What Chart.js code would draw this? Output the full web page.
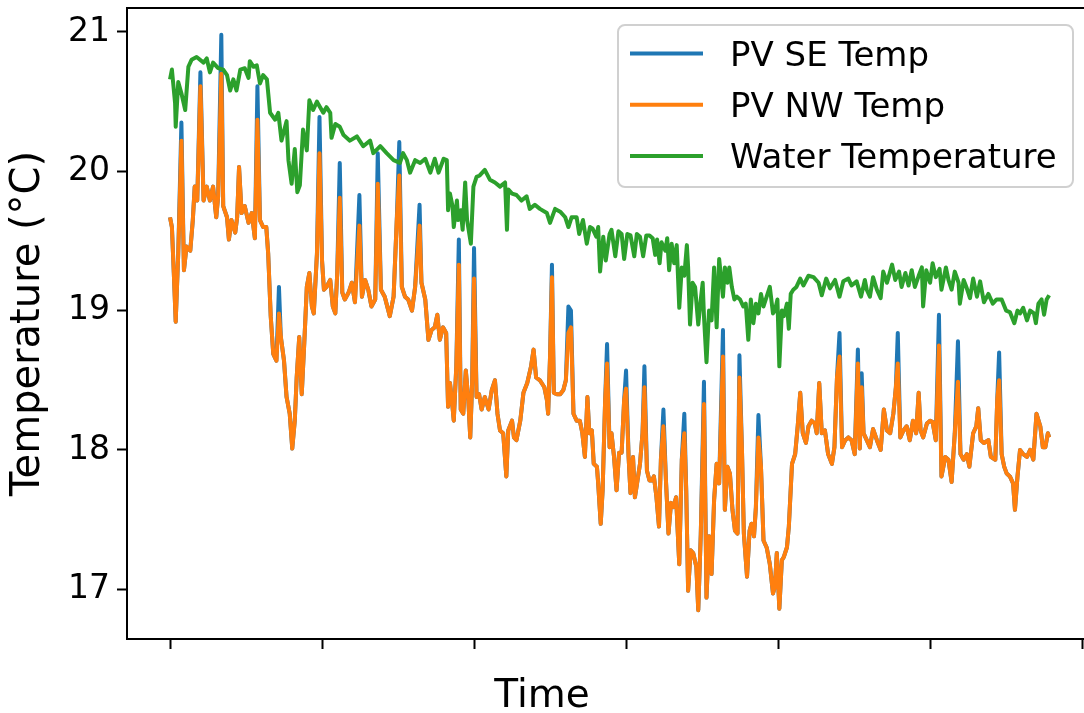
<!DOCTYPE html>
<html>
<head>
<meta charset="utf-8">
<title>PV and water temperature</title>
<script src="https://cdn.jsdelivr.net/npm/chart.js@4.4.1/dist/chart.umd.min.js"></script>
<style>
  html, body { margin: 0; padding: 0; background: #fff; }
  #wrap { width: 1084px; height: 713px; }
</style>
</head>
<body>
<div id="wrap"><canvas id="tempChart" width="1084" height="713"></canvas></div>
<script>
// Time in hours since the first sample (ticks every 24 h, no labels)
const pvHours = [
  0.0, 0.3, 0.6, 0.9, 1.3, 1.8, 2.2, 2.6, 3.2, 3.6, 3.9, 4.3,
  4.8, 5.3, 5.8, 6.3, 6.8, 7.3, 7.6, 8.1, 8.4, 9.0, 9.3, 9.7,
  10.3, 10.6, 10.9, 11.3, 11.8, 12.4, 12.9, 13.4, 13.8, 14.2, 14.7, 15.2,
  15.5, 15.9, 16.3, 16.8, 17.2, 17.5, 18.0, 18.4, 18.9, 19.3, 19.7, 20.0,
  20.4, 20.8, 21.2, 21.6, 22.0, 22.4, 22.7, 23.2, 23.6, 24.0, 24.3, 24.7,
  25.3, 25.7, 26.1, 26.4, 26.8, 27.2, 27.6, 28.2, 28.7, 29.2, 29.9, 30.3,
  30.8, 31.3, 31.8, 32.4, 32.8, 33.3, 33.9, 34.7, 35.3, 35.8, 36.2, 36.6,
  37.1, 37.6, 38.2, 38.7, 39.4, 39.7, 40.3, 40.8, 41.3, 41.8, 42.2, 42.6,
  43.1, 43.6, 43.9, 44.2, 44.5, 44.8, 45.2, 45.6, 45.9, 46.3, 46.7, 47.1,
  47.4, 47.7, 48.0, 48.4, 48.8, 49.2, 49.7, 50.3, 50.8, 51.3, 51.7, 52.1,
  52.6, 53.1, 53.4, 54.0, 54.3, 54.7, 55.3, 55.8, 56.4, 57.0, 57.4, 57.8,
  58.4, 59.1, 59.5, 59.7, 60.0, 60.3, 60.6, 61.1, 61.6, 62.1, 62.5, 62.9,
  63.3, 63.7, 64.2, 64.7, 65.1, 65.5, 65.9, 66.2, 66.6, 66.9, 67.4, 67.6,
  68.0, 68.3, 68.7, 69.0, 69.4, 69.7, 70.1, 70.5, 70.9, 71.3, 71.7, 72.0,
  72.4, 72.7, 73.1, 73.4, 73.8, 74.2, 74.6, 74.9, 75.3, 75.7, 76.1, 76.4,
  76.8, 77.2, 77.5, 77.9, 78.3, 78.7, 79.1, 79.5, 79.9, 80.4, 80.8, 81.2,
  81.5, 81.8, 82.2, 82.6, 83.1, 83.4, 83.8, 84.3, 84.7, 85.1, 85.5, 85.9,
  86.3, 86.7, 87.3, 87.6, 88.0, 88.4, 88.8, 89.2, 89.6, 89.9, 90.3, 90.6,
  91.1, 91.5, 91.8, 92.2, 92.5, 92.9, 93.3, 93.7, 94.2, 94.7, 95.2, 95.5,
  95.8, 96.2, 96.6, 96.9, 97.4, 97.7, 98.2, 98.7, 99.1, 99.5, 99.9, 100.4,
  100.8, 101.3, 101.8, 102.1, 102.5, 102.9, 103.4, 103.9, 104.5, 104.9, 105.3, 105.7,
  106.1, 106.6, 107.1, 107.6, 108.1, 108.6, 108.9, 109.2, 109.5, 110.0, 110.5, 111.0,
  111.6, 112.2, 112.7, 113.2, 113.7, 114.2, 114.6, 114.9, 115.3, 115.8, 116.3, 116.8,
  117.3, 117.8, 118.2, 118.5, 118.9, 119.5, 120.0, 120.4, 120.9, 121.4, 121.8, 122.4,
  122.9, 123.4, 123.9, 124.4, 124.8, 125.3, 125.8, 126.2, 126.8, 127.3, 127.6, 128.0,
  128.5, 129.2, 129.6, 130.3, 130.6, 130.9, 131.3, 131.7, 132.1, 132.6, 133.1, 133.4,
  133.8, 134.2, 134.7, 135.3, 135.8, 136.3, 136.8, 137.4, 137.8, 138.2, 138.6, 138.8
];

const pvSE = [
  19.67, 19.60, 19.27, 18.92, 19.41, 20.35, 19.29, 19.46, 19.43, 19.65, 19.89, 19.79,
  20.71, 19.79, 19.89, 19.79, 19.89, 19.67, 19.82, 20.98, 19.75, 19.67, 19.51, 19.65,
  19.56, 19.67, 20.03, 19.70, 19.75, 19.63, 19.70, 19.52, 20.61, 19.65, 19.60, 19.60,
  19.41, 18.96, 18.69, 18.64, 19.17, 18.81, 18.64, 18.38, 18.26, 18.01, 18.21, 18.52,
  18.81, 18.40, 18.77, 19.17, 19.27, 19.03, 18.98, 19.41, 20.39, 19.36, 19.15, 19.17,
  19.22, 19.03, 18.98, 19.27, 20.06, 19.13, 19.08, 19.13, 19.20, 19.06, 19.83, 19.10,
  19.22, 19.15, 19.03, 19.08, 20.13, 19.15, 19.10, 18.96, 19.10, 19.65, 20.21, 19.17,
  19.10, 19.08, 19.00, 19.17, 19.76, 19.20, 19.08, 18.79, 18.86, 18.88, 18.97, 18.79,
  18.88, 18.84, 18.31, 18.48, 18.36, 18.21, 18.60, 19.51, 18.29, 18.26, 18.57, 18.36,
  18.09, 18.48, 19.45, 18.38, 18.40, 18.29, 18.38, 18.29, 18.43, 18.50, 18.26, 18.14,
  18.12, 17.81, 18.14, 18.21, 18.09, 18.07, 18.21, 18.41, 18.48, 18.60, 18.72, 18.52,
  18.50, 18.45, 18.36, 18.26, 18.67, 19.33, 18.41, 18.40, 18.40, 18.43, 18.50, 19.03,
  19.00, 18.26, 18.21, 18.21, 18.12, 17.95, 18.38, 18.12, 18.14, 17.90, 17.88, 17.76,
  17.47, 17.71, 18.36, 18.76, 18.02, 18.12, 17.95, 17.71, 17.98, 17.98, 18.36, 18.57,
  17.95, 17.69, 17.95, 17.66, 17.78, 17.90, 18.12, 18.60, 17.85, 17.78, 17.78, 17.81,
  17.66, 17.45, 17.93, 18.29, 17.78, 17.40, 17.62, 17.59, 17.66, 17.18, 17.93, 18.26,
  17.71, 16.99, 17.28, 17.26, 17.16, 16.85, 17.40, 18.49, 16.94, 17.38, 17.11, 17.64,
  17.90, 17.76, 18.86, 17.57, 17.88, 17.83, 17.57, 17.42, 17.40, 18.68, 18.00, 17.40,
  17.09, 17.42, 17.47, 17.38, 17.59, 18.25, 17.88, 17.35, 17.30, 17.18, 16.97, 17.02,
  17.26, 16.86, 17.21, 17.23, 17.30, 17.45, 17.90, 17.97, 18.17, 18.41, 18.12, 18.05,
  18.17, 18.21, 18.19, 18.12, 18.48, 18.12, 18.14, 17.97, 17.90, 18.02, 18.52, 18.84,
  18.02, 18.07, 18.09, 18.07, 17.97, 18.72, 18.01, 18.55, 18.12, 18.07, 18.02, 18.15,
  18.07, 18.00, 18.29, 18.14, 18.12, 18.26, 18.45, 18.84, 18.09, 18.14, 18.17, 18.07,
  18.21, 18.12, 18.41, 18.14, 18.09, 18.19, 18.21, 18.20, 18.07, 18.97, 17.81, 17.95,
  17.93, 17.77, 18.12, 18.78, 17.97, 17.93, 17.97, 17.88, 18.12, 18.17, 18.30, 18.07,
  18.05, 18.07, 17.95, 17.93, 18.36, 18.70, 17.97, 17.88, 17.83, 17.81, 17.76, 17.57,
  17.81, 18.00, 17.97, 17.95, 18.00, 17.93, 18.26, 18.17, 18.02, 18.02, 18.12, 18.09
];

const pvNW = [
  19.67, 19.60, 19.27, 18.92, 19.41, 20.22, 19.29, 19.46, 19.43, 19.65, 19.89, 19.79,
  20.61, 19.79, 19.89, 19.79, 19.89, 19.67, 19.82, 20.70, 19.75, 19.67, 19.51, 19.65,
  19.56, 19.67, 20.03, 19.70, 19.75, 19.63, 19.70, 19.52, 20.37, 19.65, 19.60, 19.60,
  19.41, 18.96, 18.69, 18.64, 18.98, 18.81, 18.64, 18.38, 18.26, 18.01, 18.21, 18.52,
  18.81, 18.40, 18.77, 19.17, 19.27, 19.03, 18.98, 19.41, 20.13, 19.36, 19.15, 19.17,
  19.22, 19.03, 18.98, 19.27, 19.81, 19.13, 19.08, 19.13, 19.20, 19.06, 19.61, 19.10,
  19.22, 19.15, 19.03, 19.08, 19.91, 19.15, 19.10, 18.96, 19.10, 19.65, 19.97, 19.17,
  19.10, 19.08, 19.00, 19.17, 19.61, 19.20, 19.08, 18.79, 18.86, 18.88, 18.97, 18.79,
  18.88, 18.84, 18.31, 18.48, 18.36, 18.21, 18.60, 19.33, 18.29, 18.26, 18.57, 18.36,
  18.09, 18.48, 19.23, 18.38, 18.40, 18.29, 18.38, 18.29, 18.43, 18.50, 18.26, 18.14,
  18.12, 17.81, 18.14, 18.21, 18.09, 18.07, 18.21, 18.41, 18.48, 18.60, 18.72, 18.52,
  18.50, 18.45, 18.36, 18.26, 18.67, 19.24, 18.41, 18.40, 18.40, 18.43, 18.50, 18.84,
  18.88, 18.26, 18.21, 18.21, 18.12, 17.95, 18.38, 18.12, 18.14, 17.90, 17.88, 17.76,
  17.47, 17.71, 18.36, 18.62, 18.02, 18.12, 17.95, 17.71, 17.98, 17.98, 18.36, 18.44,
  17.95, 17.69, 17.95, 17.66, 17.78, 17.90, 18.12, 18.45, 17.85, 17.78, 17.78, 17.81,
  17.66, 17.45, 17.93, 18.17, 17.78, 17.40, 17.62, 17.59, 17.66, 17.18, 17.93, 18.12,
  17.71, 16.99, 17.28, 17.26, 17.16, 16.85, 17.40, 18.33, 16.94, 17.38, 17.11, 17.64,
  17.90, 17.76, 18.67, 17.57, 17.88, 17.83, 17.57, 17.42, 17.40, 18.52, 18.00, 17.40,
  17.09, 17.42, 17.47, 17.38, 17.59, 18.09, 17.88, 17.35, 17.30, 17.18, 16.97, 17.02,
  17.26, 16.86, 17.21, 17.23, 17.30, 17.45, 17.90, 17.97, 18.17, 18.41, 18.12, 18.05,
  18.17, 18.21, 18.19, 18.12, 18.48, 18.12, 18.14, 17.97, 17.90, 18.02, 18.52, 18.67,
  18.02, 18.07, 18.09, 18.07, 17.97, 18.62, 18.01, 18.45, 18.12, 18.07, 18.02, 18.15,
  18.07, 18.00, 18.29, 18.14, 18.12, 18.26, 18.45, 18.62, 18.09, 18.14, 18.17, 18.07,
  18.21, 18.12, 18.41, 18.14, 18.09, 18.19, 18.21, 18.20, 18.07, 18.75, 17.81, 17.95,
  17.93, 17.77, 18.12, 18.49, 17.97, 17.93, 17.97, 17.88, 18.12, 18.17, 18.30, 18.07,
  18.05, 18.07, 17.95, 17.93, 18.36, 18.50, 17.97, 17.88, 17.83, 17.81, 17.76, 17.57,
  17.81, 18.00, 17.97, 17.95, 18.00, 17.93, 18.26, 18.17, 18.02, 18.02, 18.12, 18.09
];

const waterHours = [
  0.0, 0.3, 0.8, 0.9, 1.3, 1.8, 2.4, 2.9, 3.4, 4.2, 5.3, 5.8,
  6.3, 6.8, 7.6, 8.4, 9.0, 9.5, 10.0, 10.5, 11.1, 11.8, 12.4, 12.6,
  13.2, 13.7, 14.2, 14.7, 15.3, 15.8, 16.6, 17.1, 17.6, 18.4, 18.7, 19.2,
  19.7, 20.1, 20.5, 21.0, 21.6, 22.0, 22.6, 23.2, 23.7, 24.2, 24.7, 25.3,
  25.5, 26.1, 26.8, 27.4, 28.4, 29.5, 30.5, 31.6, 32.1, 33.2, 34.2, 35.3,
  36.3, 36.8, 37.4, 37.9, 38.7, 39.5, 40.3, 41.1, 41.8, 42.4, 43.2, 43.7,
  43.9, 44.2, 44.6, 44.8, 45.3, 45.5, 45.9, 46.2, 46.6, 46.9, 47.5, 47.9,
  48.4, 48.9, 49.7, 50.5, 51.3, 52.1, 52.9, 53.2, 53.4, 54.0, 54.7, 55.5,
  56.3, 56.8, 57.6, 58.4, 59.5, 60.0, 60.8, 61.6, 62.4, 62.9, 63.4, 64.2,
  64.6, 65.2, 65.8, 66.3, 66.7, 67.3, 67.6, 67.9, 68.4, 68.8, 69.4, 69.7,
  70.3, 70.8, 71.3, 71.7, 72.2, 72.7, 73.3, 73.7, 74.2, 74.7, 75.2, 75.7,
  76.2, 76.6, 76.9, 77.3, 77.6, 78.2, 78.5, 78.8, 79.2, 79.6, 80.0, 80.4,
  80.8, 81.2, 81.6, 81.8, 82.1, 82.5, 82.9, 83.4, 83.8, 84.1, 84.3, 84.7,
  85.1, 85.5, 85.9, 86.3, 86.7, 87.3, 87.6, 88.0, 88.3, 88.7, 89.1, 89.5,
  90.0, 90.5, 90.9, 91.3, 91.7, 92.1, 92.5, 92.9, 93.3, 93.7, 94.2, 94.7,
  95.2, 95.5, 95.9, 96.2, 96.6, 96.9, 97.4, 97.7, 98.0, 98.4, 98.9, 99.5,
  100.0, 100.8, 101.6, 102.4, 102.9, 103.6, 104.2, 105.0, 105.7, 106.3, 107.1, 107.6,
  108.4, 109.1, 109.7, 110.0, 110.5, 111.0, 111.6, 112.2, 112.6, 113.2, 114.0, 114.5,
  115.1, 115.5, 116.1, 116.6, 117.1, 117.6, 118.2, 118.7, 118.9, 119.4, 120.0, 120.4,
  120.9, 121.5, 121.8, 122.5, 122.9, 123.4, 123.9, 124.5, 124.7, 125.3, 125.8, 126.3,
  126.8, 127.4, 127.9, 128.5, 129.2, 129.9, 130.5, 131.3, 132.0, 132.6, 133.3, 133.8,
  134.2, 134.7, 135.3, 135.8, 136.4, 136.7, 137.1, 137.6, 138.0, 138.4, 138.8
];

const waterTemp = [
  20.66, 20.73, 20.49, 20.32, 20.64, 20.56, 20.44, 20.75, 20.80, 20.82, 20.78, 20.81,
  20.71, 20.78, 20.74, 20.73, 20.69, 20.58, 20.66, 20.58, 20.73, 20.74, 20.67, 20.79,
  20.75, 20.76, 20.63, 20.69, 20.66, 20.42, 20.37, 20.42, 20.22, 20.36, 20.08, 19.91,
  20.16, 19.85, 19.90, 20.30, 20.15, 20.51, 20.44, 20.50, 20.46, 20.42, 20.46, 20.42,
  20.24, 20.34, 20.32, 20.26, 20.22, 20.25, 20.18, 20.22, 20.13, 20.18, 20.13, 20.08,
  20.06, 20.13, 20.08, 19.99, 20.08, 20.06, 20.09, 19.99, 20.09, 19.99, 20.09, 20.08,
  19.72, 19.84, 19.75, 19.60, 19.79, 19.65, 19.72, 19.58, 19.92, 19.65, 19.48, 19.89,
  19.96, 19.97, 20.01, 19.94, 19.92, 19.89, 19.92, 19.58, 19.87, 19.84, 19.83, 19.79,
  19.82, 19.73, 19.76, 19.73, 19.70, 19.63, 19.73, 19.71, 19.67, 19.60, 19.67, 19.67,
  19.55, 19.65, 19.48, 19.60, 19.59, 19.53, 19.60, 19.28, 19.53, 19.36, 19.55, 19.58,
  19.39, 19.57, 19.55, 19.37, 19.55, 19.54, 19.39, 19.55, 19.53, 19.39, 19.54, 19.54,
  19.52, 19.40, 19.51, 19.34, 19.49, 19.43, 19.52, 19.29, 19.48, 19.34, 19.47, 19.02,
  19.31, 19.25, 19.47, 19.31, 18.90, 19.20, 19.17, 18.90, 19.08, 19.20, 18.96, 18.63,
  19.00, 18.93, 19.31, 18.88, 19.37, 19.10, 19.31, 19.20, 19.31, 19.17, 19.08, 19.10,
  19.08, 19.03, 19.05, 18.79, 19.08, 18.91, 19.05, 18.98, 19.12, 19.03, 19.10, 19.17,
  18.98, 19.00, 19.08, 18.60, 19.00, 18.96, 19.05, 18.87, 19.12, 19.15, 19.17, 19.23,
  19.18, 19.25, 19.24, 19.20, 19.11, 19.23, 19.16, 19.22, 19.10, 19.21, 19.23, 19.18,
  19.21, 19.10, 19.22, 19.15, 19.10, 19.24, 19.15, 19.09, 19.28, 19.20, 19.33, 19.22,
  19.28, 19.17, 19.27, 19.18, 19.29, 19.17, 19.25, 19.31, 19.03, 19.29, 19.20, 19.34,
  19.24, 19.30, 19.15, 19.31, 19.22, 19.15, 19.28, 19.20, 19.05, 19.22, 19.16, 19.09,
  19.23, 19.10, 19.21, 19.06, 19.12, 19.05, 19.08, 19.08, 19.00, 18.99, 18.91, 19.00,
  18.98, 19.02, 18.93, 19.00, 18.98, 18.91, 19.05, 19.08, 18.97, 19.08, 19.11
];

const seriesLabels = ['PV SE Temp', 'PV NW Temp', 'Water Temperature'];
const seriesColors = ['#1f77b4', '#ff7f0e', '#2ca02c'];
const yTicks = [17, 18, 19, 20, 21];
const xTicks = [0, 24, 48, 72, 96, 120, 144];
const yTitle = 'Temperature (°C)';
const xTitle = 'Time';

const FONT = '"DejaVu Sans", "Liberation Sans", sans-serif';

function toPoints(xs, ys) {
  return xs.map((x, i) => ({ x: x, y: ys[i] }));
}

// matplotlib-like extras: top spine, x label placement and the boxed legend
const overlayPlugin = {
  id: 'overlay',
  afterDraw(chart) {
    const { ctx, chartArea } = chart;
    ctx.save();

    ctx.strokeStyle = '#000';
    ctx.lineWidth = 2;
    ctx.beginPath();
    ctx.moveTo(chartArea.left - 1, chartArea.top);
    ctx.lineTo(chartArea.right, chartArea.top);
    ctx.stroke();

    ctx.fillStyle = '#000';
    ctx.font = '39px ' + FONT;
    ctx.textAlign = 'center';
    ctx.textBaseline = 'alphabetic';
    ctx.fillText(xTitle, 542, 707);

    // legend box
    ctx.beginPath();
    ctx.roundRect(618, 25, 455, 162, 7);
    ctx.fillStyle = 'rgba(255,255,255,0.8)';
    ctx.fill();
    ctx.strokeStyle = '#d0d0d0';
    ctx.lineWidth = 2;
    ctx.stroke();

    ctx.font = '34px ' + FONT;
    ctx.textAlign = 'left';
    chart.data.datasets.forEach((ds, i) => {
      const y = 53.5 + i * 51.2;
      ctx.strokeStyle = ds.borderColor;
      ctx.lineWidth = 4;
      ctx.lineCap = 'butt';
      ctx.beginPath();
      ctx.moveTo(630, y);
      ctx.lineTo(703, y);
      ctx.stroke();
      ctx.fillStyle = '#000';
      ctx.fillText(ds.label, 730, y + 12);
    });

    ctx.restore();
  }
};

const ctx = document.getElementById('tempChart').getContext('2d');

new Chart(ctx, {
  type: 'line',
  data: {
    datasets: [
      {
        label: seriesLabels[0],
        data: toPoints(pvHours, pvSE),
        borderColor: seriesColors[0],
        order: 3
      },
      {
        label: seriesLabels[1],
        data: toPoints(pvHours, pvNW),
        borderColor: seriesColors[1],
        order: 2
      },
      {
        label: seriesLabels[2],
        data: toPoints(waterHours, waterTemp),
        borderColor: seriesColors[2],
        order: 1
      }
    ]
  },
  options: {
    responsive: false,
    animation: false,
    devicePixelRatio: 1,
    layout: { padding: { top: 8, left: 0, right: 0, bottom: 0 } },
    elements: {
      point: { radius: 0, hoverRadius: 0 },
      line: { borderWidth: 4, tension: 0, fill: false, borderJoinStyle: 'round' }
    },
    plugins: {
      legend: { display: false },
      tooltip: { enabled: false }
    },
    scales: {
      x: {
        type: 'linear',
        min: -6.79,
        max: 144.3,
        afterBuildTicks: (scale) => { scale.ticks = xTicks.map(v => ({ value: v })); },
        afterFit: (scale) => { scale.height = 74; scale.paddingLeft = 0; scale.paddingRight = 0; },
        ticks: { callback: () => '', autoSkip: false, maxRotation: 0 },
        grid: { drawOnChartArea: false, drawTicks: true, tickLength: 10, tickWidth: 2, tickColor: '#000' },
        border: { display: true, color: '#000', width: 2 }
      },
      y: {
        min: 16.643,
        max: 21.172,
        afterBuildTicks: (scale) => { scale.ticks = yTicks.map(v => ({ value: v })); },
        afterFit: (scale) => { scale.width = 127; scale.paddingTop = 0; scale.paddingBottom = 0; },
        ticks: {
          color: '#000',
          padding: 7,
          font: { family: FONT, size: 33 }
        },
        grid: { drawOnChartArea: false, drawTicks: true, tickLength: 10, tickWidth: 2, tickColor: '#000' },
        border: { display: true, color: '#000', width: 2 },
        title: {
          display: true,
          text: yTitle,
          color: '#000',
          font: { family: FONT, size: 40, lineHeight: 1 },
          padding: { top: 9, bottom: 0 }
        }
      }
    }
  },
  plugins: [overlayPlugin]
});
</script>
</body>
</html>
